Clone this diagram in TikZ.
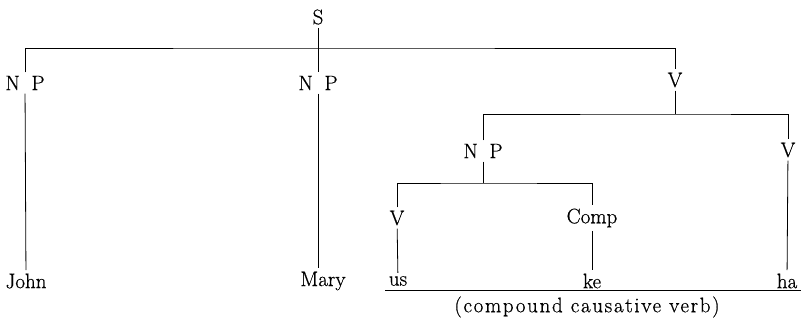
\documentclass[tikz,border=0pt]{standalone}
\usepackage{fontspec}
\setmainfont{Latin Modern Roman}[FakeBold=0.6]
\begin{document}
\begin{tikzpicture}[x=1pt, y=-1pt, line width=0.8pt, font=\fontsize{21}{25}\selectfont]
\tikzset{
  cat/.style={inner sep=3pt},
  leaf/.style={inner sep=3pt},
  gloss/.style={inner sep=2pt, font=\fontsize{21}{25}\selectfont\addfontfeature{LetterSpace=8}}
}
\useasboundingbox (0,0) rectangle (801,320);

\node[cat] (s) at (318,17) {S};
\node[cat] (np1) at (25,83) {N\hskip .55em P};
\node[cat] (np2) at (318,83) {N\hskip .55em P};
\node[cat] (v1) at (675,80) {V};
\node[cat] (np3) at (483,151) {N\hskip .55em P};
\node[cat] (v3) at (788,150) {V};
\node[cat] (v2) at (397,218) {V};
\node[cat] (comp) at (592,218) {Comp};

\node[leaf] (john) at (26,281) {John};
\node[leaf] (mary) at (323,281) {Mary};
\node[leaf] (us) at (398,281) {us};
\node[leaf] (ke) at (592,281) {ke};
\node[leaf] (ha) at (787,281) {ha};
\node[gloss] (gl) at (587,307) {(compound causative verb)};

\coordinate (sbar) at (318,48);
\coordinate (vbar) at (675,114);
\coordinate (npbar) at (483,183);

\draw (s) -- (np2);
\draw (np1.north) |- (sbar) -| (v1.north);
\draw (v1) -- (vbar);
\draw (np3.north) |- (vbar) -| (v3.north);
\draw (np3) -- (npbar);
\draw (v2.north) |- (npbar) -| (comp.north);

\draw (np1) -- (john);
\draw (np2.south) -- (np2.south |- mary.north);
\draw (v2) -- (us);
\draw (comp) -- (ke);
\draw (v3) -- (ha);
\draw ([yshift=-1pt]us.south west) -- ([yshift=-1pt]us.south west -| ha.south east);
\end{tikzpicture}
\end{document}
